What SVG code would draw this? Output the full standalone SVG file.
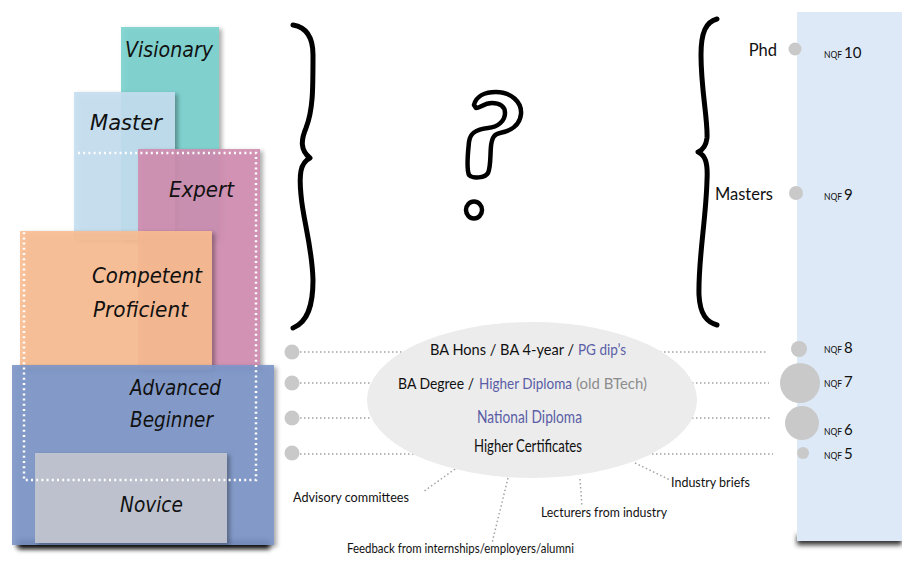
<svg xmlns="http://www.w3.org/2000/svg" width="902" height="562" viewBox="0 0 902 562">
  <defs>
    <filter id="shadow" x="-10%" y="-10%" width="130%" height="130%">
      <feDropShadow dx="3" dy="2" stdDeviation="2" flood-color="#000" flood-opacity="0.35"/>
    </filter>
    <filter id="blur" x="-20%" y="-200%" width="140%" height="500%">
      <feGaussianBlur stdDeviation="2.5"/>
    </filter>
  </defs>
  <style>
    .level { fill-opacity: 0.9; filter: url(#shadow); }
    .hand { font-family: "DejaVu Sans", "Noto Sans", sans-serif; font-style: italic; font-size: 22px; fill: #111; }
    .gill { font-family: Lato, "Noto Sans", sans-serif; fill: #111; }
    .edu { font-size: 16.5px; }
    .seg { font-size: 15px; }
    .note { font-size: 13.5px; }
    .blue { fill: #5a5ea6; }
    .grey { fill: #8c8c8c; }
    .nqf { font-size: 8.5px; }
    .num { font-size: 15px; }
    .brace { fill: none; stroke: #000; stroke-width: 5; stroke-linecap: round; stroke-linejoin: round; }
    .dot { fill: #c9c9c9; }
    .link { fill: none; stroke: #a3a3a3; stroke-width: 1.5; stroke-dasharray: 1.5 2.5; }
  </style>

  <rect width="902" height="562" fill="#fff"/>

  <!-- NQF scale panel -->
  <g id="nqf-panel">
    <rect x="797" y="535" width="105" height="10" fill="#333" filter="url(#blur)"/>
    <rect x="797" y="12" width="105" height="529" fill="#dde9f6"/>
  </g>

  <!-- Skill levels, back to front -->
  <g id="visionary">
    <rect class="level" x="121" y="27" width="98" height="213" fill="#79d2cd"/>
    <text class="hand" x="125" y="57" textLength="88" lengthAdjust="spacingAndGlyphs">Visionary</text>
  </g>
  <g id="master">
    <rect class="level" x="74" y="92" width="101" height="148" fill="#c4def0"/>
    <text class="hand" x="90" y="130" textLength="72" lengthAdjust="spacingAndGlyphs">Master</text>
  </g>
  <g id="expert">
    <rect class="level" x="138" y="149" width="122" height="221" fill="#d08db0"/>
    <text class="hand" x="169" y="197" textLength="65" lengthAdjust="spacingAndGlyphs">Expert</text>
  </g>
  <g id="competent-proficient">
    <rect class="level" x="20" y="231" width="192" height="139" fill="#f8bc91"/>
    <text class="hand" x="92" y="283" textLength="110" lengthAdjust="spacingAndGlyphs">Competent</text>
    <text class="hand" x="93" y="317" textLength="95" lengthAdjust="spacingAndGlyphs">Proficient</text>
  </g>
  <g id="advanced-beginner">
    <rect x="18" y="540" width="252" height="9" fill="#111" filter="url(#blur)"/>
    <rect class="level" x="12" y="365" width="262" height="180" fill="#7b95c8" fill-opacity="0.95"/>
    <text class="hand" x="130" y="395" textLength="91" lengthAdjust="spacingAndGlyphs">Advanced</text>
    <text class="hand" x="130" y="427" textLength="83" lengthAdjust="spacingAndGlyphs">Beginner</text>
  </g>
  <g id="novice">
    <rect class="level" x="35" y="453" width="192" height="90" fill="#c3c6d0" fill-opacity="0.95"/>
    <text class="hand" x="120" y="512" textLength="63" lengthAdjust="spacingAndGlyphs">Novice</text>
  </g>
  <path id="dotted-frame" d="M78,153 H256 V480 H24 V232" fill="none" stroke="#fff" stroke-width="2.5" stroke-dasharray="2 3.2"/>

  <!-- Braces and question mark -->
  <g id="left-brace">
    <path class="brace" d="M293,25 C305,27 313,35 313,55 C313,90 313,110 306,128 C301,140 300,150 310,158 C300,163 299,175 301,195 C303,220 312,245 313,280 C313,305 308,322 293,328"/>
  </g>
  <g id="question">
    <path d="M474,105 C476,96 485,92 496,92 C511,92 522,102 521,114 C520,125 511,131 500,133 C494,134 492,138 491,146 C490,156 491,166 488,173 C485,178 473,179 469,175 C466,168 468,152 469,142 C470,132 478,129 488,128 C498,127 505,121 505,113 C505,106 499,103 492,103 C484,103 480,108 476,108 Z" fill="none" stroke="#000" stroke-width="4.5" stroke-linejoin="round"/>
    <ellipse cx="474" cy="210" rx="8" ry="8.5" fill="none" stroke="#000" stroke-width="4.5"/>
  </g>
  <g id="right-brace">
    <path class="brace" d="M717,19 C706,22 701,32 701,55 C701,90 708,120 707,138 C706,146 703,150 698,152 C705,155 708,162 707,180 C706,220 698,260 699,295 C700,315 707,322 717,325"/>
  </g>

  <!-- Connectors -->
  <g id="connectors">
    <path class="link" d="M300,352 H768"/>
    <path class="link" d="M300,383 H769"/>
    <path class="link" d="M300,418 H771"/>
    <path class="link" d="M300,454 H773"/>
    <path class="link" d="M455,469 L423,492"/>
    <path class="link" d="M508,478 L492,543"/>
    <path class="link" d="M580,479 L582,507"/>
    <path class="link" d="M635,463 L670,480"/>
  </g>

  <g id="left-dots">
    <circle class="dot" cx="292" cy="352" r="7.5"/>
    <circle class="dot" cx="292" cy="383" r="7.5"/>
    <circle class="dot" cx="292" cy="418" r="7.5"/>
    <circle class="dot" cx="292" cy="453" r="7.5"/>
  </g>

  <!-- Qualifications -->
  <g id="qualifications">
    <ellipse cx="532" cy="400" rx="165" ry="78" fill="#ececec"/>
    <text class="gill seg" x="430" y="355" textLength="144" lengthAdjust="spacingAndGlyphs">BA Hons / BA 4-year /</text>
    <text class="gill seg blue" x="578" y="355" textLength="48" lengthAdjust="spacingAndGlyphs">PG dip’s</text>
    <text class="gill seg" x="398" y="389" textLength="76" lengthAdjust="spacingAndGlyphs">BA Degree /</text>
    <text class="gill seg blue" x="479" y="389" textLength="93" lengthAdjust="spacingAndGlyphs">Higher Diploma</text>
    <text class="gill seg grey" x="576" y="389" textLength="71" lengthAdjust="spacingAndGlyphs">(old BTech)</text>
    <text class="gill edu blue" x="477" y="423" textLength="105" lengthAdjust="spacingAndGlyphs">National Diploma</text>
    <text class="gill edu" x="474" y="452" textLength="108" lengthAdjust="spacingAndGlyphs">Higher Certificates</text>
  </g>

  <g id="industry-inputs">
    <text class="gill note" x="293" y="502" textLength="116" lengthAdjust="spacingAndGlyphs">Advisory committees</text>
    <text class="gill note" x="347" y="553" textLength="227" lengthAdjust="spacingAndGlyphs">Feedback from internships/employers/alumni</text>
    <text class="gill note" x="541" y="517" textLength="126" lengthAdjust="spacingAndGlyphs">Lecturers from industry</text>
    <text class="gill note" x="671" y="487" textLength="79" lengthAdjust="spacingAndGlyphs">Industry briefs</text>
  </g>

  <!-- NQF levels -->
  <g id="nqf-10">
    <circle class="dot" cx="795" cy="49" r="6.5"/>
    <text class="gill edu" x="777" y="56" text-anchor="end">Phd</text>
    <text class="gill" x="824" y="58"><tspan class="nqf">NQF </tspan><tspan class="num">10</tspan></text>
  </g>
  <g id="nqf-9">
    <circle class="dot" cx="796" cy="193" r="7"/>
    <text class="gill edu" x="773" y="200" text-anchor="end">Masters</text>
    <text class="gill" x="824" y="200"><tspan class="nqf">NQF </tspan><tspan class="num">9</tspan></text>
  </g>
  <g id="nqf-8">
    <circle class="dot" cx="799" cy="349" r="8"/>
    <text class="gill" x="824" y="353"><tspan class="nqf">NQF </tspan><tspan class="num">8</tspan></text>
  </g>
  <g id="nqf-7">
    <circle class="dot" cx="800" cy="383" r="20"/>
    <text class="gill" x="824" y="387"><tspan class="nqf">NQF </tspan><tspan class="num">7</tspan></text>
  </g>
  <g id="nqf-6">
    <circle class="dot" cx="802" cy="423" r="17"/>
    <text class="gill" x="824" y="435"><tspan class="nqf">NQF </tspan><tspan class="num">6</tspan></text>
  </g>
  <g id="nqf-5">
    <circle class="dot" cx="803" cy="453" r="6"/>
    <text class="gill" x="824" y="459"><tspan class="nqf">NQF </tspan><tspan class="num">5</tspan></text>
  </g>
</svg>
